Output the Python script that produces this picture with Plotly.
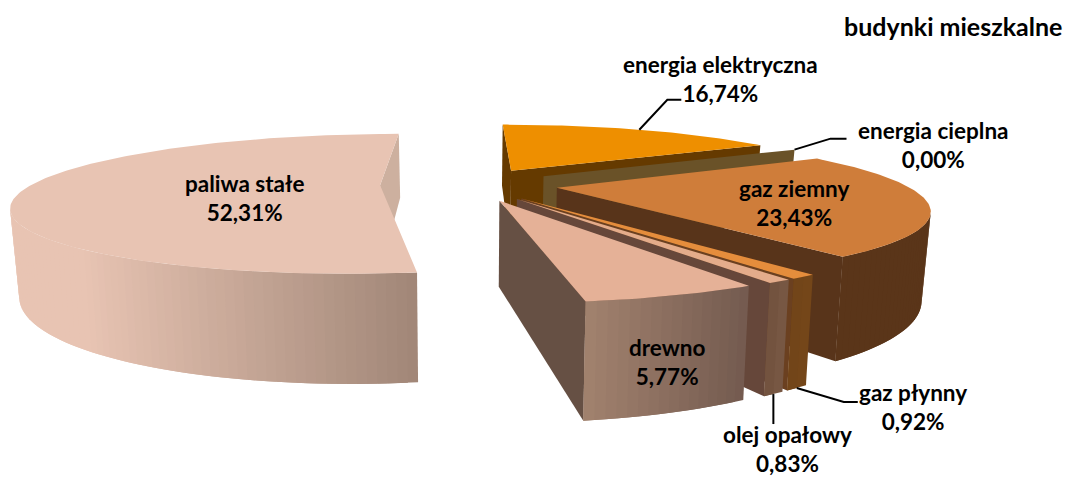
import math
import plotly.graph_objects as go

# ---- data ----
labels = ["energia elektryczna", "energia cieplna", "gaz ziemny", "gaz płynny", "olej opałowy", "drewno", "paliwa stałe"]
values = [16.74, 0.00, 23.43, 0.92, 0.83, 5.77, 52.31]
title_text = "budynki mieszkalne"

top_colors = ["#ee8f00", "#6a5228", "#cf7d3a", "#e58d3c", "#e4ac8b", "#e5b197", "#e8c4b3"]
side_colors = ["#653a00", "#6a5228", "#58341a", "#6b4020", "#66473a", "#665044", "#cdb09f"]
# outer wall gradient (x-left, colour-left, x-right, colour-right), in screen x
wall_grad = [
    (500, "#653a00", 760, "#653a00"),
    (500, "#6a5228", 800, "#6a5228"),
    (760, "#5a3519", 930, "#5a3519"),
    (780, "#6e4218", 812, "#754719"),
    (765, "#6f4e3b", 790, "#7a5a45"),
    (582, "#a3836f", 750, "#735a4f"),
    (80, "#e8c4b3", 420, "#a08677"),
]
label_pos = [(720, 79), (933, 145), (794, 203), (913, 407), (787, 449), (667, 362), (244, 198)]

# ---- projection model fitted to the picture ----
PX, HORIZON, F, G = 469.0, -60.0, 1318.0, 925.0
HEIGHT_K, SHRINK = 1.33, 0.98
CX, CD, EXPLODE, R = 0.0, 3.79, 0.255, 1.0
ROT = 0.0


def proj(X, D, bottom=False):
    x = PX + F * X / D
    y = G / D
    if bottom:
        return PX + (x - PX) * SHRINK, HORIZON + y * HEIGHT_K
    return x, HORIZON + y


def hexmix(a, b, t):
    t = max(0.0, min(1.0, t))
    ca = [int(a[i:i + 2], 16) for i in (1, 3, 5)]
    cb = [int(b[i:i + 2], 16) for i in (1, 3, 5)]
    return "rgb(%d,%d,%d)" % tuple(round(p + (q - p) * t) for p, q in zip(ca, cb))


fig = go.Figure()


def poly(pts, color):
    xs = [p[0] for p in pts] + [pts[0][0]]
    ys = [p[1] for p in pts] + [pts[0][1]]
    fig.add_trace(go.Scatter(x=xs, y=ys, mode="lines", fill="toself", fillcolor=color,
                             line=dict(color=color, width=0), hoverinfo="skip", showlegend=False))


total = sum(values)
angles = []
cum = 0.0
for v in values:
    a0 = ROT + cum / total * 360.0
    cum += v
    angles.append((a0, ROT + cum / total * 360.0))


def apex(i):
    a0, a1 = angles[i]
    m = math.radians((a0 + a1) / 2)
    return CX + EXPLODE * math.sin(m), CD + EXPLODE * math.cos(m)


def rim(i, deg):
    ax, ad = apex(i)
    t = math.radians(deg)
    return ax + R * math.sin(t), ad + R * math.cos(t)


for i in range(len(values)):
    a0, a1 = angles[i]
    ax, ad = apex(i)
    # radial walls (only when facing the camera)
    for deg, sign in ((a0, -1), (a1, 1)):
        n = math.radians(deg + sign * 90)
        if math.sin(n) * (-ax) + math.cos(n) * (-ad) > 0:
            rx, rd = rim(i, deg)
            poly([proj(ax, ad), proj(rx, rd), proj(rx, rd, True), proj(ax, ad, True)], side_colors[i])
    # outer wall in gradient strips; each strip overlaps the next to hide seams
    steps = max(2, int((a1 - a0) * 0.8))
    x0g, c0g, x1g, c1g = wall_grad[i]
    for s in range(steps):
        d0 = a0 + (a1 - a0) * s / steps
        d1 = a0 + (a1 - a0) * (s + 1) / steps
        dm = math.radians((d0 + d1) / 2)
        p0, p1 = rim(i, d0), rim(i, d1)
        mx, md = (p0[0] + p1[0]) / 2, (p0[1] + p1[1]) / 2
        if math.sin(dm) * (-mx) + math.cos(dm) * (-md) <= 0:
            continue
        d2 = min(a1, d1 + (a1 - a0) / steps)
        p2 = rim(i, d2)
        sx = (proj(*p0)[0] + proj(*p1)[0]) / 2
        col = hexmix(c0g, c1g, (sx - x0g) / (x1g - x0g))
        poly([proj(*p0), proj(*p1), proj(*p2), proj(*p2, True), proj(*p1, True), proj(*p0, True)], col)
    # top face
    n = max(2, int(a1 - a0) + 1)
    pts = [proj(ax, ad)]
    for s in range(n + 1):
        pts.append(proj(*rim(i, a0 + (a1 - a0) * s / n)))
    poly(pts, top_colors[i])

# ---- leader lines, anchored on the slices ----
def leader(start, *offsets):
    xs, ys = [start[0]], [start[1]]
    for dx, dy in offsets:
        xs.append(xs[-1] + dx)
        ys.append(ys[-1] + dy)
    fig.add_trace(go.Scatter(x=xs, y=ys, mode="lines", line=dict(color="#000000", width=2),
                             hoverinfo="skip", showlegend=False))


mid = lambda i: (angles[i][0] + angles[i][1]) / 2
leader(proj(*rim(0, mid(0))), (28, -30), (14, 0))
leader(proj(*rim(1, mid(1))), (36, -11), (16, 0))
leader(proj(*rim(3, mid(3)), True), (47, 14), (14, 0))
leader(proj(*rim(4, mid(4)), True), (0, 30))

FONT = "Lato"
for name, v, (lx, ly) in zip(labels, values, label_pos):
    txt = "<b>%s<br>%s%%</b>" % (name, ("%.2f" % v).replace(".", ","))
    fig.add_annotation(x=lx, y=ly, text=txt, showarrow=False, xanchor="center", yanchor="middle",
                       align="center", font=dict(family=FONT, size=22.5, color="#000000"))
fig.add_annotation(x=953, y=26, text="<b>%s</b>" % title_text, showarrow=False, xanchor="center",
                   yanchor="middle", font=dict(family=FONT, size=25, color="#000000"))

fig.update_layout(
    width=1073, height=477, autosize=False, margin=dict(l=0, r=0, t=0, b=0),
    paper_bgcolor="#ffffff", plot_bgcolor="#ffffff",
    xaxis=dict(range=[0, 1073], visible=False, fixedrange=True),
    yaxis=dict(range=[477, 0], visible=False, fixedrange=True),
)
fig.write_html("out.html", config={"displayModeBar": False},
               post_script="document.body.style.margin='0';document.documentElement.style.overflow='hidden';")
